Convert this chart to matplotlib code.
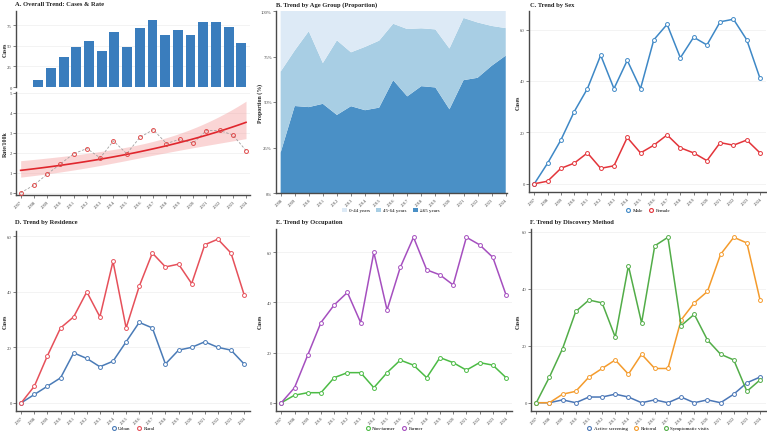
import numpy as np
import matplotlib
matplotlib.use("Agg")
import matplotlib.pyplot as plt
from matplotlib.lines import Line2D
from matplotlib.patches import Patch

# ---------------- data ----------------
years = list(range(2007, 2025))
total_cases = [0, 9, 23, 36, 49, 56, 44, 66, 49, 71, 81, 63, 69, 63, 79, 79, 73, 53]
rate_per_100k = [0.00, 0.38, 0.93, 1.44, 1.95, 2.21, 1.74, 2.59, 1.95, 2.77,
                 3.15, 2.46, 2.67, 2.48, 3.10, 3.11, 2.89, 2.11]

age_years = list(range(2008, 2025))
age_labels = ["0-44 years", "45-64 years", "\u226565 years"]
pct_0_44 = [33.3, 21.7, 11.1, 28.6, 16.1, 22.7, 19.7, 16.3, 7.0, 9.9, 9.5, 10.1, 20.6, 3.8, 6.3, 8.2, 9.4]
pct_45_64 = [44.5, 30.5, 41.7, 22.4, 41.0, 29.6, 34.8, 36.8, 31.0, 37.0, 31.8, 31.9, 33.4, 34.2, 30.4, 21.9, 15.1]
pct_65plus = [22.2, 47.8, 47.2, 49.0, 42.9, 47.7, 45.5, 46.9, 62.0, 53.1, 58.7, 58.0, 46.0, 62.0, 63.3, 69.9, 75.5]

male = [0, 8, 17, 28, 37, 50, 37, 48, 37, 56, 62, 49, 57, 54, 63, 64, 56, 41]
female = [0, 1, 6, 8, 12, 6, 7, 18, 12, 15, 19, 14, 12, 9, 16, 15, 17, 12]

urban = [0, 3, 6, 9, 18, 16, 13, 15, 22, 29, 27, 14, 19, 20, 22, 20, 19, 14]
rural = [0, 6, 17, 27, 31, 40, 31, 51, 27, 42, 54, 49, 50, 43, 57, 59, 54, 39]

non_farmer = [0, 3, 4, 4, 10, 12, 12, 6, 12, 17, 15, 10, 18, 16, 13, 16, 15, 10]
farmer = [0, 6, 19, 32, 39, 44, 32, 60, 37, 54, 66, 53, 51, 47, 66, 63, 58, 43]

active_screening = [0, 0, 1, 0, 2, 2, 3, 2, 0, 1, 0, 2, 0, 1, 0, 3, 7, 9]
referral = [0, 0, 3, 4, 9, 12, 15, 10, 17, 12, 12, 29, 35, 39, 52, 58, 56, 36]
symptomatic = [0, 9, 19, 32, 36, 35, 23, 48, 28, 55, 58, 27, 31, 22, 17, 15, 4, 8]

# ---------------- style ----------------
W, H = 767, 435
plt.rcParams['font.family'] = ['Liberation Serif', 'DejaVu Serif']
fig = plt.figure(figsize=(W / 100, H / 100), dpi=100)

TICK_FS = 3.4
LAB_FS = 4.2
TITLE_FS = 4.7
LEG_FS = 3.6
SPINE_C = '#4a4a4a'
GRID_C = '#efefef'


def box(l, t, r, b):
    return [l / W, 1 - b / H, (r - l) / W, (b - t) / H]


def style(ax, grid=True):
    for s in ['top', 'right']:
        ax.spines[s].set_visible(False)
    for s in ['left', 'bottom']:
        ax.spines[s].set_color(SPINE_C)
        ax.spines[s].set_linewidth(1.0)
    ax.tick_params(axis='both', labelsize=TICK_FS, colors='#4d4d4d', length=2,
                   width=0.5, pad=1)
    if grid:
        ax.yaxis.grid(True, color=GRID_C, lw=0.5)
        ax.set_axisbelow(True)


def xyears(ax, yrs):
    ax.set_xticks(yrs)
    ax.set_xticklabels([str(y) for y in yrs], rotation=45, ha='right',
                       rotation_mode='anchor', fontsize=TICK_FS)


def ylab(x, y, text):
    fig.text(x / W, 1 - y / H, text, rotation=90, ha='center', va='center',
             fontsize=LAB_FS, fontweight='bold', color='#222222')


def title(x, y, text):
    fig.text(x / W, 1 - y / H, text, ha='left', va='center',
             fontsize=TITLE_FS, fontweight='bold', color='#222222')


def line_panel(ax, series, colors):
    for vals, c in zip(series, colors):
        ax.plot(years, vals, color=c, lw=1.1, marker='o', ms=2.8,
                mfc='white', mec=c, mew=0.7, zorder=3)
    style(ax)
    xyears(ax, years)
    ax.set_xlim(2006.6, 2024.45)
    ax.margins(y=0.05)


def legend(cx, cy, labels, colors, square=False):
    if square:
        handles = [Patch(facecolor=c, edgecolor='none') for c in colors]
    else:
        handles = [Line2D([], [], ls='none', marker='o', ms=2.8, mfc='white',
                          mec=c, mew=0.8) for c in colors]
    fig.legend(handles, labels, loc='center', bbox_to_anchor=(cx / W, 1 - cy / H),
               ncol=len(labels), frameon=False, fontsize=LEG_FS, handlelength=1.0,
               handleheight=0.8, handletextpad=0.4, columnspacing=1.2,
               borderaxespad=0, borderpad=0)


# ---------------- Panel A ----------------
axA1 = fig.add_axes(box(16, 12, 250, 88))
axA1.bar(years[1:], total_cases[1:], width=0.78, color='#3a7dbd', zorder=2)
style(axA1)
axA1.spines['bottom'].set_visible(False)
axA1.set_xlim(2006.24, 2024.69)
axA1.set_ylim(0, 92)
axA1.set_yticks([0, 25, 50, 75])
axA1.set_xticks([])

axA2 = fig.add_axes(box(16, 93, 250, 196))
t = np.array(years, float) - years[0]
yv = np.array(rate_per_100k, float)
X = np.column_stack([np.ones_like(t), t])
beta = np.array([np.log(yv.mean()), 0.0])
for _ in range(60):
    eta = X @ beta
    mu = np.exp(eta)
    z = eta + (yv - mu) / mu
    XtW = X.T * mu
    beta = np.linalg.solve(XtW @ X, XtW @ z)
mu = np.exp(X @ beta)
phi = np.sum((yv - mu) ** 2 / mu) / (len(yv) - 2)
cov = phi * np.linalg.inv((X.T * mu) @ X)
tg = np.linspace(t.min(), t.max(), 100)
Xg = np.column_stack([np.ones_like(tg), tg])
eg = Xg @ beta
se = np.sqrt(np.einsum('ij,jk,ik->i', Xg, cov, Xg))
axA2.fill_between(tg + years[0], np.exp(eg - 1.96 * se), np.exp(eg + 1.96 * se),
                  color='#f4a3a3', alpha=0.45, lw=0, zorder=1)
axA2.plot(tg + years[0], np.exp(eg), color='#e0262d', lw=1.2, zorder=3)
axA2.plot(years, rate_per_100k, color='#a0a0a0', lw=0.6, ls=(0, (3, 2)), zorder=2)
axA2.plot(years, rate_per_100k, ls='none', marker='o', ms=2.8, mfc='none',
          mec='#e04848', mew=0.7, zorder=4)
style(axA2)
xyears(axA2, years)
axA2.set_xlim(2006.65, 2024.3)
axA2.set_ylim(-0.11, 5.03)
axA2.set_yticks([0, 1, 2, 3, 4, 5])
title(15, 5, "A. Overall Trend: Cases & Rate")
ylab(5, 50, "Cases")
ylab(5, 144, "Rate/100k")

# ---------------- Panel B ----------------
axB = fig.add_axes(box(276, 12, 507, 194))
age_colors = ['#ddeaf6', '#a8cee4', '#4a90c6']
yb = np.vstack([pct_65plus, pct_45_64, pct_0_44]) / 100.0
axB.stackplot(age_years, yb, colors=[age_colors[2], age_colors[1], age_colors[0]],
              lw=0, zorder=2)
style(axB, grid=False)
xyears(axB, age_years)
axB.set_xlim(2007.67, 2024.09)
axB.set_ylim(0, 1)
axB.set_yticks([0, 0.25, 0.5, 0.75, 1.0])
axB.set_yticklabels(['0%', '25%', '50%', '75%', '100%'])
title(276, 5, "B. Trend by Age Group (Proportion)")
ylab(260, 103, "Proportion (%)")
legend(391, 211, age_labels, age_colors, square=True)

# ---------------- Panel C ----------------
axC = fig.add_axes(box(529, 12, 766, 193))
line_panel(axC, [male, female], ['#3e88c6', '#e3343a'])
axC.set_yticks([0, 20, 40, 60])
title(530, 5, "C. Trend by Sex")
ylab(518, 103, "Cases")
legend(648, 211, ["Male", "Female"], ['#3e88c6', '#e3343a'])

# ---------------- Panel D ----------------
axD = fig.add_axes(box(16, 232, 250, 412))
line_panel(axD, [urban, rural], ['#4a7bb7', '#e6505a'])
axD.set_yticks([0, 20, 40, 60])
title(15, 223, "D. Trend by Residence")
ylab(5, 322, "Cases")
legend(133, 429, ["Urban", "Rural"], ['#4a7bb7', '#e6505a'])

# ---------------- Panel E ----------------
axE = fig.add_axes(box(276, 230, 512, 412))
line_panel(axE, [non_farmer, farmer], ['#4cbb45', '#a54fbf'])
axE.set_yticks([0, 20, 40, 60])
title(276, 223, "E. Trend by Occupation")
ylab(260, 322, "Cases")
legend(394, 429, ["Non-farmer", "Farmer"], ['#4cbb45', '#a54fbf'])

# ---------------- Panel F ----------------
axF = fig.add_axes(box(531, 230, 766, 412))
line_panel(axF, [active_screening, referral, symptomatic],
           ['#4a76b6', '#f49b2c', '#52ad48'])
axF.set_yticks([0, 20, 40, 60])
title(530, 223, "F. Trend by Discovery Method")
ylab(518, 322, "Cases")
legend(648, 429, ["Active screening", "Referral", "Symptomatic visits"],
       ['#4a76b6', '#f49b2c', '#52ad48'])

fig.savefig("out.png", dpi=100)
